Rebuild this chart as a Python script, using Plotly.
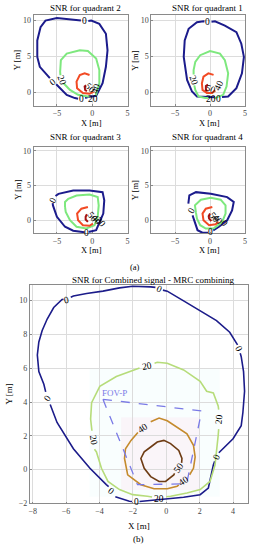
import plotly.graph_objects as go

W, H = 256, 550
N = None

# ---------------- Quadrant 2 ----------------
Q2_L0_X = [-0.55, -0.14, 1.01, 1.94, 2.17, 1.94, 1.47, 1.01, 0.56, -0.61, -1.0, N,
           -2.0, -2.46, -3.61, -4.78, -5.1, N,
           -6.0, -6.62, -7.42, -7.78, -7.78, -7.32, -6.62, -5.0, -2.0, -1.6]
Q2_L0_Y = [9.95, 10.0, 9.54, 8.17, 5.87, 3.58, 1.29, 0.37, -0.45, -0.63, -0.75, N,
           -0.85, -0.77, -0.32, 0.83, 1.15, N,
           2.0, 2.67, 3.58, 4.95, 7.25, 9.08, 10.0, 10.37, 10.1, 10.0]
Q2_L20_X = [-4.5, -4.54, -4.44, -3.61, -1.76, -0.61, 0.56, 1.01, 1.01, 0.78, 0.5, N,
            -0.4, -0.83, -2.0, -3.15, -3.85, -4.05]
Q2_L20_Y = [2.4, 2.89, 4.5, 5.42, 5.87, 5.78, 4.73, 3.12, 1.29, 0.37, -0.4, N,
            -0.6, -0.55, -0.32, 0.37, 1.06, 1.3]
Q2_L40_X = [-0.38, -1.07, -1.76, -2.22, -2.14, -1.31, -0.38, 0.2]
Q2_L40_Y = [2.43, 2.67, 2.43, 1.51, 0.6, -0.08, -0.18, 0.1]
Q2_L50_X = [-0.85, -1.07, -1.0, -0.75]
Q2_L50_Y = [1.0, 0.85, 0.35, 0.2]
Q2_LAB_T = ["0", "0", "0", "20", "20", "50", "40"]
Q2_LAB_X = [-1.07, -5.56, -1.53, -4.31, 0.08, -0.3, 0.6]
Q2_LAB_Y = [9.9, 1.51, -0.91, 1.75, -0.87, 0.6, 0.6]
Q2_LAB_A = [0, -40, 0, 70, 0, 45, -70]

# ---------------- Quadrant 1 ----------------
Q1_L0_X = [0.2, 0.70, 2.11, 3.76, 4.46, 4.83, 4.55, 3.76, 2.58, 1.7, N,
           0.7, -0.70, -1.87, -2.58, -3.28, -3.76, -3.62, -3.06, -1.87, -0.94, -0.8]
Q1_L0_Y = [9.85, 9.9, 9.31, 8.39, 6.79, 4.95, 2.67, 0.6, -0.55, -0.63, N,
           -0.65, -0.63, -0.55, 0.14, 1.75, 4.95, 7.25, 8.86, 9.77, 9.9, 9.88]
Q1_L20_X = [-2.35, -2.35, -2.11, -1.41, 0.0, 1.41, 2.11, 2.58, 2.35, 1.87, 0.70, 0.6, N,
            -0.25, -0.7, -1.65, -2.11, -2.25]
Q1_L20_Y = [2.5, 3.12, 4.27, 5.19, 5.78, 5.42, 4.5, 2.67, 0.83, -0.32, -0.77, -0.77, N,
            -0.77, -0.77, -0.55, 0.37, 1.0]
Q1_L40_X = [0.5, -0.24, -0.94, -1.17, -1.08, -0.46, 0.3, 0.75]
Q1_L40_Y = [2.45, 2.67, 2.2, 1.29, 0.37, -0.08, -0.05, 0.3]
Q1_L50_X = [-0.3, -0.6, -0.6, -0.35]
Q1_L50_Y = [1.1, 0.9, 0.35, 0.2]
Q1_LAB_T = ["0", "0", "20", "20", "50", "40"]
Q1_LAB_X = [-0.33, 1.2, -2.35, 0.2, 0.1, 1.3]
Q1_LAB_Y = [9.77, -0.85, 1.75, -0.85, 0.55, 1.0]
Q1_LAB_A = [0, 0, 70, 0, 20, -65]

# ---------------- Quadrant 3 ----------------
Q3_L0_X = [-5.2, -4.78, -2.69, -0.38, 1.47, 1.71, 1.57, 1.01, 0.56, -0.38, -0.45, N,
           -1.1, -1.53, -2.69, -3.85, -5.0, -5.56, -5.6]
Q3_L0_Y = [3.5, 3.81, 4.29, 4.29, 4.05, 2.86, 0.96, -0.47, -1.43, -1.66, -1.7, N,
           -1.72, -1.66, -1.51, -0.94, 0.49, 2.14, 2.45]
Q3_L20_X = [-3.85, -3.85, -3.39, -2.22, -0.38, 0.78, 0.92, 0.78, 0.32, -0.83, -2.22, -3.15, -3.75, -3.85]
Q3_L20_Y = [1.91, 2.63, 3.1, 3.57, 3.71, 3.34, 2.14, 0.49, -0.71, -1.19, -0.94, 0.0, 1.2, 1.91]
Q3_L40_X = [-0.61, -1.53, -2.14, -2.0, -1.31, -0.38, 0.1]
Q3_L40_Y = [1.91, 1.67, 0.96, 0.0, -0.71, -0.8, -0.5]
Q3_L50_X = [-0.75, -0.93, -0.93, -0.61]
Q3_L50_Y = [0.86, 0.5, 0.1, -0.23]
Q3_LAB_T = ["0", "0", "50", "40", "20"]
Q3_LAB_X = [-5.56, -0.75, 0.0, 0.7, 1.2]
Q3_LAB_Y = [2.96, -1.8, 0.4, 0.1, -0.2]
Q3_LAB_A = [-60, 0, 50, 50, 50]

# ---------------- Quadrant 4 ----------------
Q4_L0_X = [-3.1, -2.96, -2.01, 0.1, 2.44, 3.38, 3.14, 2.44, 1.27, 0.45, N,
           -0.3, -1.08, -1.79, -2.25, -2.5]
Q4_L0_Y = [2.39, 3.57, 4.05, 3.81, 3.34, 2.63, 1.43, 0.0, -0.94, -1.45, N,
           -1.8, -1.8, -1.43, -0.23, 0.7]
Q4_L20_X = [-2.01, -2.16, -1.31, 0.1, 1.51, 2.21, 2.21, 1.73, 0.56, -0.61, -1.41, -1.87, -2.01]
Q4_L20_Y = [1.06, 2.14, 2.96, 3.24, 2.96, 2.14, 0.96, -0.23, -1.14, -1.19, -0.71, 0.24, 1.06]
Q4_L40_X = [0.32, -0.61, -1.08, -0.94, -0.14, 0.8, 1.2]
Q4_L40_Y = [1.91, 1.67, 0.96, 0.0, -0.71, -0.57, -0.2]
Q4_L50_X = [0.0, -0.2, -0.14, 0.19]
Q4_L50_Y = [0.96, 0.6, 0.24, -0.1]
Q4_LAB_T = ["0", "0", "50", "40", "0"]
Q4_LAB_X = [-2.72, 0.1, 0.5, 1.2, 2.0]
Q4_LAB_Y = [1.34, -1.75, 0.4, 0.1, -0.4]
Q4_LAB_A = [-60, 0, 50, 50, 50]

# ---------------- Combined (MRC) ----------------
B_L0_X = [-7.22, -7.33, -7.63, -7.72, -7.63, -7.43, -7.13, -6.74, -6.24, -6.15, N,
          -5.72, -5.56, -4.77, -3.79, -2.80, -2.01, -0.93, -0.65, N,
          -0.2, 0.06, 1.04, 2.03, 3.01, 3.80, 4.19, 4.27, N,
          4.43, 4.49, 4.63, 4.69, 4.59, 4.49, 4.0, 3.31, 3.15, N,
          2.9, 2.82, 2.52, 2.03, 1.04, 0.06, -0.73, -1.52, -1.6, N,
          -2.05, -2.21, -3.05, N,
          -3.45, -3.59, -4.57, -5.56, -6.54, -6.95]
B_L0_Y = [4.6, 5.05, 5.80, 6.78, 7.55, 8.23, 8.91, 9.59, 10.07, 10.08, N,
          10.2, 10.27, 10.42, 10.56, 10.75, 10.85, 10.81, 10.78, N,
          10.62, 10.56, 9.98, 9.40, 8.82, 8.13, 7.55, 7.38, N,
          6.88, 6.68, 5.80, 4.64, 3.38, 2.60, 1.83, 1.15, 1.0, N,
          0.5, 0.27, -1.09, -1.48, -1.63, -1.71, -1.77, -1.87, -1.88, N,
          -1.88, -1.87, -1.6, N,
          -1.0, -0.89, 0.08, 1.24, 2.79, 3.85]
B_L20_X = [-1.6, -1.81, -2.99, -3.98, -4.47, -4.53, -4.47, -4.45, N,
           -4.3, -4.18, -3.88, -3.49, -2.80, -2.01, -1.13, -0.85, N,
           -0.0, 0.26, 1.24, 2.03, 2.62, 2.92, 3.11, 3.14, N,
           3.14, 3.11, 2.82, 2.42, 2.03, 1.04, 0.06, -0.54, -0.7]
B_L20_Y = [6.02, 5.94, 5.51, 4.93, 3.96, 2.99, 2.41, 2.3, N,
           1.2, 1.05, 0.08, -0.70, -1.18, -1.48, -1.57, -1.62, N,
           -1.6, -1.57, -1.38, -1.18, -0.70, 0.27, 2.02, 2.4, N,
           3.55, 3.77, 4.54, 4.64, 5.22, 5.90, 6.29, 6.35, 6.3]
B_L40_X = [-0.93, -0.43, 0.06, 0.65, 1.24, 1.63, 1.73, 1.63, 1.4, N,
           0.75, 0.65, 0.06, -0.73, -1.52, -2.31, -2.50, -2.44, -2.11, -1.7]
B_L40_Y = [2.83, 3.05, 2.89, 2.50, 2.12, 1.44, 0.75, 0.08, -0.3, N,
           -0.9, -0.99, -1.13, -1.13, -0.89, -0.31, 0.66, 1.24, 1.73, 2.2]
B_L50_X = [0.5, 0.45, -0.04, -0.43, -0.93, -1.32, -1.52, -1.32, -0.93, -0.54, -0.14, 0.26, 0.75, 0.94, 0.92]
B_L50_Y = [-0.22, -0.31, -0.70, -0.70, -0.41, 0.08, 0.66, 1.05, 1.34, 1.63, 1.73, 1.54, 1.14, 0.66, 0.4]
B_FOV_X = [-3.79, 2.12, 1.22, -1.72, -3.79]
B_FOV_Y = [4.16, 3.47, -0.84, -0.89, 4.16]
B_LAB_T = ["0", "0", "0", "0", "0", "0", "0", "20", "20", "20", "20", "40", "40", "50"]
B_LAB_X = [-5.95, -0.43, 4.35, 3.01, -1.81, -3.29, -7.10, -1.13, -4.38, -0.43, 3.17, -1.38, 1.04, 0.75]
B_LAB_Y = [10.05, 10.70, 7.13, 0.75, -1.90, -1.24, 4.23, 6.14, 1.73, -1.73, 2.99, 2.44, -0.70, 0.08]
B_LAB_A = [-10, 25, 65, -65, 0, 40, -55, -10, 80, 0, -85, -35, -35, -55]

Q_COLORS = {"0": "#1c1c8c", "20": "#7ee87e", "40": "#f24a24", "50": "#a51212"}
B_COLORS = {"0": "#1c1c8a", "20": "#b6dc7a", "40": "#c48a2c", "50": "#6e3c14", "fov": "#7a7ae6"}

FONT = "Liberation Serif"
fig = go.Figure()


def px_x(p):
    return p / W


def px_y(p):
    return 1 - p / H


quads = [
    ("", Q2_L0_X, Q2_L0_Y, Q2_L20_X, Q2_L20_Y, Q2_L40_X, Q2_L40_Y, Q2_L50_X, Q2_L50_Y,
     Q2_LAB_T, Q2_LAB_X, Q2_LAB_Y, Q2_LAB_A),
    ("2", Q1_L0_X, Q1_L0_Y, Q1_L20_X, Q1_L20_Y, Q1_L40_X, Q1_L40_Y, Q1_L50_X, Q1_L50_Y,
     Q1_LAB_T, Q1_LAB_X, Q1_LAB_Y, Q1_LAB_A),
    ("3", Q3_L0_X, Q3_L0_Y, Q3_L20_X, Q3_L20_Y, Q3_L40_X, Q3_L40_Y, Q3_L50_X, Q3_L50_Y,
     Q3_LAB_T, Q3_LAB_X, Q3_LAB_Y, Q3_LAB_A),
    ("4", Q4_L0_X, Q4_L0_Y, Q4_L20_X, Q4_L20_Y, Q4_L40_X, Q4_L40_Y, Q4_L50_X, Q4_L50_Y,
     Q4_LAB_T, Q4_LAB_X, Q4_LAB_Y, Q4_LAB_A),
]

annotations = []
for q in quads:
    sfx = q[0]
    xa, ya = "x" + sfx, "y" + sfx
    levels = [("0", q[1], q[2]), ("20", q[3], q[4]), ("40", q[5], q[6]), ("50", q[7], q[8])]
    for lv, xs, ys in levels:
        fig.add_trace(go.Scatter(x=xs, y=ys, mode="lines", xaxis=xa, yaxis=ya,
                                 line=dict(color=Q_COLORS[lv], width=2), showlegend=False,
                                 hoverinfo="skip"))
    for t, lx, ly, la in zip(q[9], q[10], q[11], q[12]):
        annotations.append(dict(x=lx, y=ly, xref=xa, yref=ya, text=t, showarrow=False,
                                textangle=la, font=dict(family=FONT, size=9.5, color="black")))

# bottom plot
for key, xs, ys in [("0", B_L0_X, B_L0_Y), ("20", B_L20_X, B_L20_Y),
                    ("40", B_L40_X, B_L40_Y), ("50", B_L50_X, B_L50_Y)]:
    fig.add_trace(go.Scatter(x=xs, y=ys, mode="lines", xaxis="x5", yaxis="y5",
                             line=dict(color=B_COLORS[key], width=1.6), showlegend=False,
                             hoverinfo="skip"))
fig.add_trace(go.Scatter(x=B_FOV_X, y=B_FOV_Y, mode="lines", xaxis="x5", yaxis="y5",
                         line=dict(color=B_COLORS["fov"], width=1.3, dash="dash"),
                         showlegend=False, hoverinfo="skip"))
for t, lx, ly, la in zip(B_LAB_T, B_LAB_X, B_LAB_Y, B_LAB_A):
    annotations.append(dict(x=lx, y=ly, xref="x5", yref="y5", text=t, showarrow=False,
                            textangle=la, font=dict(family=FONT, size=9.5, color="black")))
annotations.append(dict(x=-3.09, y=4.56, xref="x5", yref="y5", text="FOV-P", showarrow=False,
                        font=dict(family=FONT, size=9, color=B_COLORS["fov"])))

# texts in pixel positions
def ptext(t, x, y, size=9, angle=0):
    annotations.append(dict(x=px_x(x), y=px_y(y), xref="paper", yref="paper", text=t,
                            showarrow=False, textangle=angle, xanchor="center", yanchor="middle",
                            font=dict(family=FONT, size=size, color="black")))

ptext("SNR for quadrant 2", 86, 7)
ptext("SNR for quadrant 1", 209, 7)
ptext("SNR for quadrant 3", 86, 138)
ptext("SNR for quadrant 4", 209, 138)
for xx in (92, 211):
    ptext("X [m]", xx, 123, 8.5)
    ptext("X [m]", xx, 252, 8.5)
for xx in (17, 136):
    ptext("Y [m]", xx, 60, 8.5, -90)
    ptext("Y [m]", xx, 191, 8.5, -90)
ptext("(a)", 136, 269, 8.5)
ptext("SNR for Combined signal - MRC combining", 154, 282, 9)
ptext("X [m]", 140, 531, 9)
ptext("(b)", 139, 544, 9)
ptext("Y [m]", 8, 397, 9, -90)

axis_common = dict(showgrid=True, gridcolor="#dcdcdc", gridwidth=0.7, zeroline=False,
                   showline=True, mirror=True, linecolor="#8a8a8a", linewidth=0.8,
                   ticks="inside", ticklen=2, tickcolor="#8a8a8a",
                   tickfont=dict(family=FONT, size=8, color="#444"))

boxes = {
    "": ((33, 128), (14, 106), [-8.3, 5], [-1.85, 10.8]),
    "2": ((152, 247), (14, 106), [-8.4, 5], [-1.85, 10.8]),
    "3": ((33, 128), (148, 235), [-8.3, 5], [-1.9, 10.5]),
    "4": ((152, 247), (148, 235), [-8.4, 5], [-1.9, 10.5]),
}
layout = {}
for sfx, ((x0, x1), (y0, y1), xr, yr) in boxes.items():
    layout["xaxis" + sfx] = dict(axis_common, domain=[px_x(x0), px_x(x1)], range=xr,
                                 tickvals=[-5, 0, 5], anchor="y" + sfx)
    layout["yaxis" + sfx] = dict(axis_common, domain=[px_y(y1), px_y(y0)], range=yr,
                                 tickvals=[0, 5, 10], anchor="x" + sfx)
layout["xaxis5"] = dict(axis_common, domain=[px_x(29), px_x(250)], range=[-8.18, 4.9],
                        tickvals=[-8, -6, -4, -2, 0, 2, 4], anchor="y5")
layout["yaxis5"] = dict(axis_common, domain=[px_y(508), px_y(287)], range=[-2, 10.93],
                        tickvals=[-2, 0, 2, 4, 6, 8, 10], anchor="x5")

shapes = [
    dict(type="rect", xref="x5", yref="y5", x0=-4.6, x1=3.2, y0=-1.6, y1=6.0,
         fillcolor="rgba(200,245,245,0.10)", line=dict(width=0), layer="below"),
    dict(type="rect", xref="x5", yref="y5", x0=-2.7, x1=2.0, y0=-1.2, y1=3.1,
         fillcolor="rgba(255,200,225,0.16)", line=dict(width=0), layer="below"),
]

fig.update_layout(width=W, height=H, margin=dict(l=0, r=0, t=0, b=0),
                  paper_bgcolor="white", plot_bgcolor="white",
                  annotations=annotations, shapes=shapes, **layout)

fig.write_html("out.html", config={"displayModeBar": False},
               post_script="document.body.style.margin='0';document.body.style.padding='0';"
                           "document.documentElement.style.overflow='hidden';"
                           "document.body.style.overflow='hidden';")
